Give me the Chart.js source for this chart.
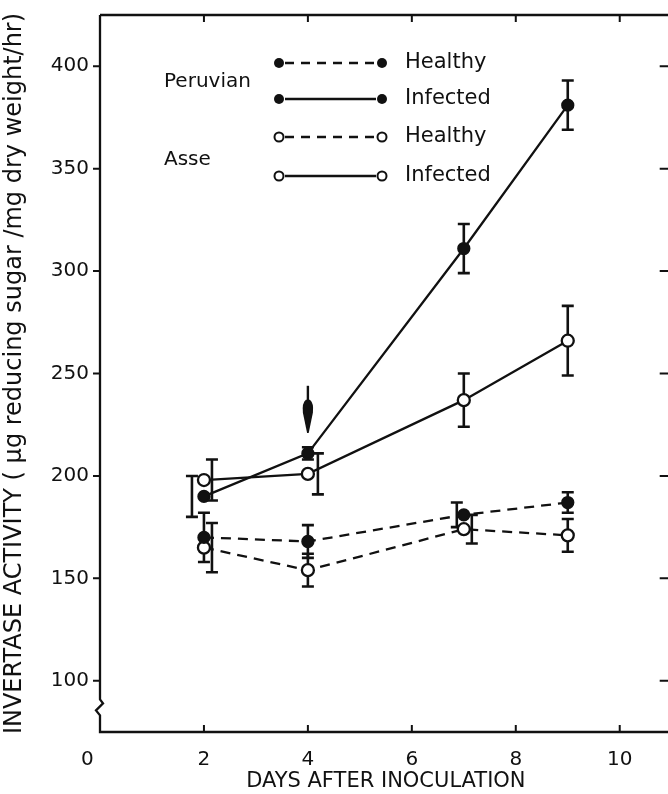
<!DOCTYPE html>
<html>
<head>
<meta charset="utf-8">
<script src="https://cdn.jsdelivr.net/npm/chart.js@4.4.1/dist/chart.umd.min.js"></script>
<style>
  html, body { margin:0; padding:0; background:#fff; overflow:hidden; }
  #wrap { width:680px; height:794px; }
</style>
</head>
<body>
<div id="wrap"><canvas id="c" width="680" height="794"></canvas></div>
<script>
// ---- data ----
const days = [2, 4, 7, 9];
const peruvianHealthy    = [170, 168, 181, 187];
const peruvianHealthyErr = [12, 8, 6, 5];
const asseHealthy        = [165, 154, 174, 171];
const asseHealthyErr     = [12, 8, 7, 8];
const peruvianInfected    = [190, 211, 311, 381];
const peruvianInfectedErr = [10, 3, 12, 12];
const asseInfected        = [198, 201, 237, 266];
const asseInfectedErr     = [10, 10, 13, 17];
const xTicks = [0, 2, 4, 6, 8, 10];
const yTicks = [100, 150, 200, 250, 300, 350, 400];
const arrowDay = 4;
const arrowFrom = 244, arrowTo = 221;

// style-only: horizontal pixel offsets of error bars (to avoid overlap)
const offPH = [0, 0, -7, 0];
const offAH = [8, 0, 8, 0];
const offPI = [-12, 0, 0, 0];
const offAI = [8, 10, 0, 0];

const FONT = '"DejaVu Sans", sans-serif';
const INK = '#111';

function pts(ys) { return days.map((d, i) => ({ x: d, y: ys[i] })); }

const datasets = [
  { label: 'Peruvian Healthy', data: pts(peruvianHealthy), err: peruvianHealthyErr, off: offPH,
    borderDash: [10, 7], pointBackgroundColor: INK, pointRadius: 5.5 },
  { label: 'Peruvian Infected', data: pts(peruvianInfected), err: peruvianInfectedErr, off: offPI,
    borderDash: [], pointBackgroundColor: INK, pointRadius: 5.5 },
  { label: 'Asse Healthy', data: pts(asseHealthy), err: asseHealthyErr, off: offAH,
    borderDash: [10, 7], pointBackgroundColor: '#fff', pointRadius: 6 },
  { label: 'Asse Infected', data: pts(asseInfected), err: asseInfectedErr, off: offAI,
    borderDash: [], pointBackgroundColor: '#fff', pointRadius: 6 }
].map(d => Object.assign({
  borderColor: INK, borderWidth: 2.3, pointBorderColor: INK, pointBorderWidth: 2.3,
  fill: false, tension: 0
}, d));

const errorBars = {
  id: 'errorBars',
  beforeDatasetsDraw(chart) {
    const { ctx, scales: { x, y } } = chart;
    ctx.save();
    ctx.strokeStyle = INK; ctx.lineWidth = 2.6;
    chart.data.datasets.forEach(ds => {
      ds.data.forEach((p, i) => {
        const px = x.getPixelForValue(p.x) + (ds.off[i] || 0);
        const top = y.getPixelForValue(p.y + ds.err[i]);
        const bot = y.getPixelForValue(p.y - ds.err[i]);
        ctx.beginPath();
        ctx.moveTo(px, top); ctx.lineTo(px, bot);
        ctx.moveTo(px - 6, top); ctx.lineTo(px + 6, top);
        ctx.moveTo(px - 6, bot); ctx.lineTo(px + 6, bot);
        ctx.stroke();
      });
    });
    ctx.restore();
  }
};

const frame = {
  id: 'frame',
  afterDraw(chart) {
    const { ctx, chartArea: a, scales: { x, y } } = chart;
    ctx.save();
    ctx.strokeStyle = INK; ctx.lineWidth = 2.3; ctx.lineCap = 'butt';
    const yb = y.getPixelForValue(88);
    ctx.beginPath();
    ctx.moveTo(a.left, a.top); ctx.lineTo(a.left, yb - 6);
    ctx.lineTo(a.left + 3, yb - 2);
    ctx.lineTo(a.left - 4, yb + 5);
    ctx.lineTo(a.left, yb + 10);
    ctx.lineTo(a.left, a.bottom);
    ctx.lineTo(a.right, a.bottom);
    ctx.lineTo(a.right, a.top);
    ctx.lineTo(a.left, a.top);
    ctx.stroke();
    ctx.lineWidth = 2;
    ctx.beginPath();
    yTicks.forEach(v => { const py = y.getPixelForValue(v); ctx.moveTo(a.left, py); ctx.lineTo(a.left - 7, py); });
    yTicks.forEach(v => { const py = y.getPixelForValue(v); ctx.moveTo(a.right, py); ctx.lineTo(a.right - 12, py); });
    xTicks.filter(v => v > 0).forEach(v => {
      const px = x.getPixelForValue(v);
      ctx.moveTo(px, a.bottom); ctx.lineTo(px, a.bottom - 7);
      ctx.moveTo(px, a.top); ctx.lineTo(px, a.top + 7);
    });
    ctx.stroke();

    // arrow
    const ax = x.getPixelForValue(arrowDay);
    const ay0 = y.getPixelForValue(arrowFrom), ay1 = y.getPixelForValue(arrowTo);
    ctx.lineWidth = 2.4;
    ctx.beginPath(); ctx.moveTo(ax, ay0); ctx.lineTo(ax, ay0 + 16); ctx.stroke();
    ctx.fillStyle = INK;
    ctx.beginPath();
    ctx.moveTo(ax - 2, ay0 + 14);
    ctx.lineTo(ax + 2, ay0 + 14);
    ctx.quadraticCurveTo(ax + 6, ay0 + 17, ax + 5, ay0 + 27);
    ctx.lineTo(ax + 0.8, ay1);
    ctx.lineTo(ax - 0.8, ay1);
    ctx.lineTo(ax - 5, ay0 + 27);
    ctx.quadraticCurveTo(ax - 6, ay0 + 17, ax - 2, ay0 + 14);
    ctx.fill();

    // legend
    const rows = [
      { y: 63, dash: [9, 7], filled: true, text: 'Healthy' },
      { y: 99, dash: [], filled: true, text: 'Infected' },
      { y: 137, dash: [9, 7], filled: false, text: 'Healthy' },
      { y: 176, dash: [], filled: false, text: 'Infected' }
    ];
    const lx0 = 279, lx1 = 382;
    rows.forEach(r => {
      ctx.save();
      ctx.setLineDash(r.dash); ctx.lineWidth = 2.3; ctx.strokeStyle = INK;
      ctx.beginPath(); ctx.moveTo(lx0 + 6, r.y); ctx.lineTo(lx1 - 6, r.y); ctx.stroke();
      ctx.restore();
      [lx0, lx1].forEach(cx => {
        ctx.beginPath(); ctx.arc(cx, r.y, r.filled ? 5 : 4.5, 0, Math.PI * 2);
        if (r.filled) { ctx.fillStyle = INK; ctx.fill(); }
        else { ctx.fillStyle = '#fff'; ctx.fill(); ctx.lineWidth = 2; ctx.strokeStyle = INK; ctx.stroke(); }
      });
      ctx.fillStyle = INK; ctx.font = '21px ' + FONT; ctx.textBaseline = 'middle'; ctx.textAlign = 'left';
      ctx.fillText(r.text, 405, r.y);
    });
    ctx.font = '20px ' + FONT;
    ctx.fillText('Peruvian', 164, 82);
    ctx.fillText('Asse', 164, 160);
    ctx.restore();
  }
};

new Chart(document.getElementById('c'), {
  type: 'line',
  data: { datasets },
  options: {
    responsive: false,
    animation: false,
    layout: { padding: { top: 4, right: 0, left: 0, bottom: 0 } },
    plugins: { legend: { display: false }, tooltip: { enabled: false } },
    scales: {
      x: {
        type: 'linear', min: 0, max: 11,
        afterBuildTicks: s => { s.ticks = xTicks.map(v => ({ value: v })); },
        afterFit: s => { s.height = 62; },
        grid: { display: false }, border: { display: false },
        ticks: { color: INK, font: { family: FONT, size: 20 }, padding: 8, maxRotation: 0, autoSkip: false,
                 callback: v => (v === 0 ? '0    ' : String(v)) },
        title: { display: true, text: 'DAYS AFTER INOCULATION', color: INK,
                 font: { family: FONT, size: 21 }, padding: { top: 0, bottom: 0 } }
      },
      y: {
        type: 'linear', min: 75, max: 425,
        afterBuildTicks: s => { s.ticks = yTicks.map(v => ({ value: v })); },
        afterFit: s => { s.width = 100; },
        grid: { display: false }, border: { display: false },
        ticks: { color: INK, font: { family: FONT, size: 20 }, padding: 3 },
        title: { display: true, text: 'INVERTASE ACTIVITY ( µg reducing sugar /mg dry weight/hr)', color: INK,
                 font: { family: FONT, size: 24 }, padding: { top: 0, bottom: 0 } }
      }
    }
  },
  plugins: [errorBars, frame]
});
</script>
</body>
</html>
